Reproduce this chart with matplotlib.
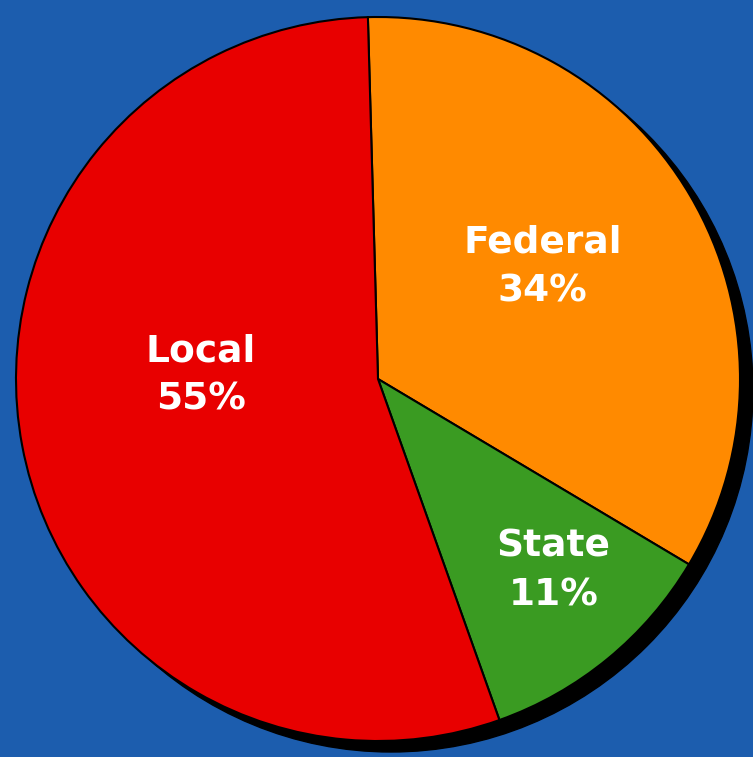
import matplotlib.pyplot as plt
from matplotlib.patches import Circle

labels = ["Federal", "State", "Local"]
shares = [34, 11, 55]
colors = ["#FF8A00", "#3A9B22", "#E80000"]

fig = plt.figure(figsize=(7.53, 7.57), dpi=100)
fig.patch.set_facecolor("#1C5DAE")
ax = fig.add_axes([0, 0, 1, 1])

cx, cy, r = 378, 378, 362

# drop shadow behind the pie
ax.add_patch(Circle((cx + 13, cy - 11), r, color="black", zorder=0))

wedges, _ = ax.pie(shares, colors=colors, startangle=91.6, counterclock=False,
                   center=(cx, cy), radius=r, frame=True,
                   wedgeprops=dict(edgecolor="black", linewidth=1.5))
ax.set_xlim(0, 753)
ax.set_ylim(0, 757)
ax.set_aspect("equal")
ax.axis("off")

offsets = [(0.455, 0.31), (0.485, -0.53), (-0.49, 0.01)]
for name, val, (dx, dy) in zip(labels, shares, offsets):
    ax.text(cx + dx * r, cy + dy * r, f"{name}\n{val}%", color="white",
            fontsize=27, fontweight="bold", family="DejaVu Sans",
            ha="center", va="center", linespacing=1.45)

fig.savefig("out.png", dpi=100, facecolor=fig.get_facecolor())
